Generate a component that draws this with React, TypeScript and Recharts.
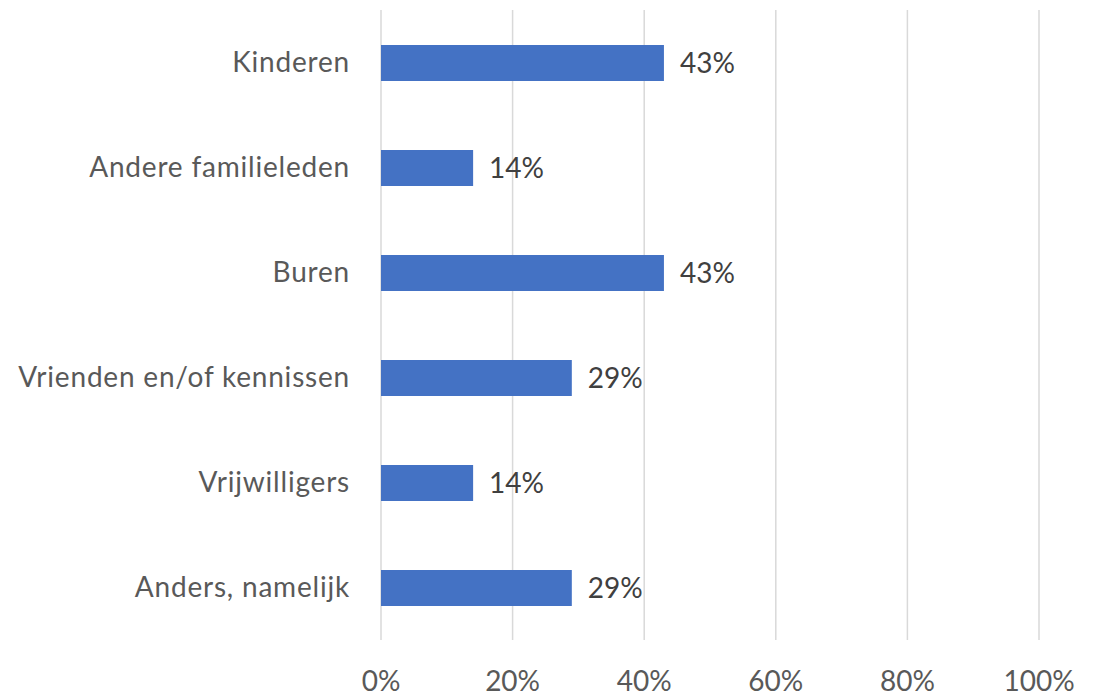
import React from "react";
import { BarChart, Bar, XAxis, YAxis, CartesianGrid, LabelList } from "recharts";

const categories = [
  "Kinderen",
  "Andere familieleden",
  "Buren",
  "Vrienden en/of kennissen",
  "Vrijwilligers",
  "Anders, namelijk",
];
const values = [43, 14, 43, 29, 14, 29];
const xTicks = [0, 20, 40, 60, 80, 100];

const data = categories.map((c, i) => ({ name: c, value: values[i] }));

const FONT = "Lato, 'Open Sans', sans-serif";

export default function App() {
  return (
    <div style={{ position: "absolute", left: 0, top: 0, width: 1101, height: 696, background: "#fff" }}>
      <BarChart
        width={1101}
        height={696}
        data={data}
        layout="vertical"
        margin={{ top: 10, right: 62, bottom: 0, left: 0 }}
      >
        <CartesianGrid horizontal={false} stroke="#D9D9D9" strokeWidth={1.5} />
        <XAxis
          type="number"
          domain={[0, 100]}
          ticks={xTicks}
          tickFormatter={(v: number) => `${v}%`}
          axisLine={false}
          tickLine={false}
          tickSize={0}
          tickMargin={31}
          height={56}
          tick={{ fill: "#595959", fontSize: 28, fontFamily: FONT }}
          interval={0}
        />
        <YAxis
          type="category"
          dataKey="name"
          width={381}
          axisLine={false}
          tickLine={false}
          tickSize={0}
          tickMargin={31}
          tick={{ fill: "#595959", fontSize: 28, fontFamily: FONT, letterSpacing: 0.8 }}
          interval={0}
        />
        <Bar dataKey="value" fill="#4472C4" barSize={36} isAnimationActive={false}>
          <LabelList
            dataKey="value"
            position="right"
            offset={16}
            formatter={(v: number) => `${v}%`}
            style={{ fill: "#404040", fontSize: 28, fontFamily: FONT }}
          />
        </Bar>
      </BarChart>
    </div>
  );
}
